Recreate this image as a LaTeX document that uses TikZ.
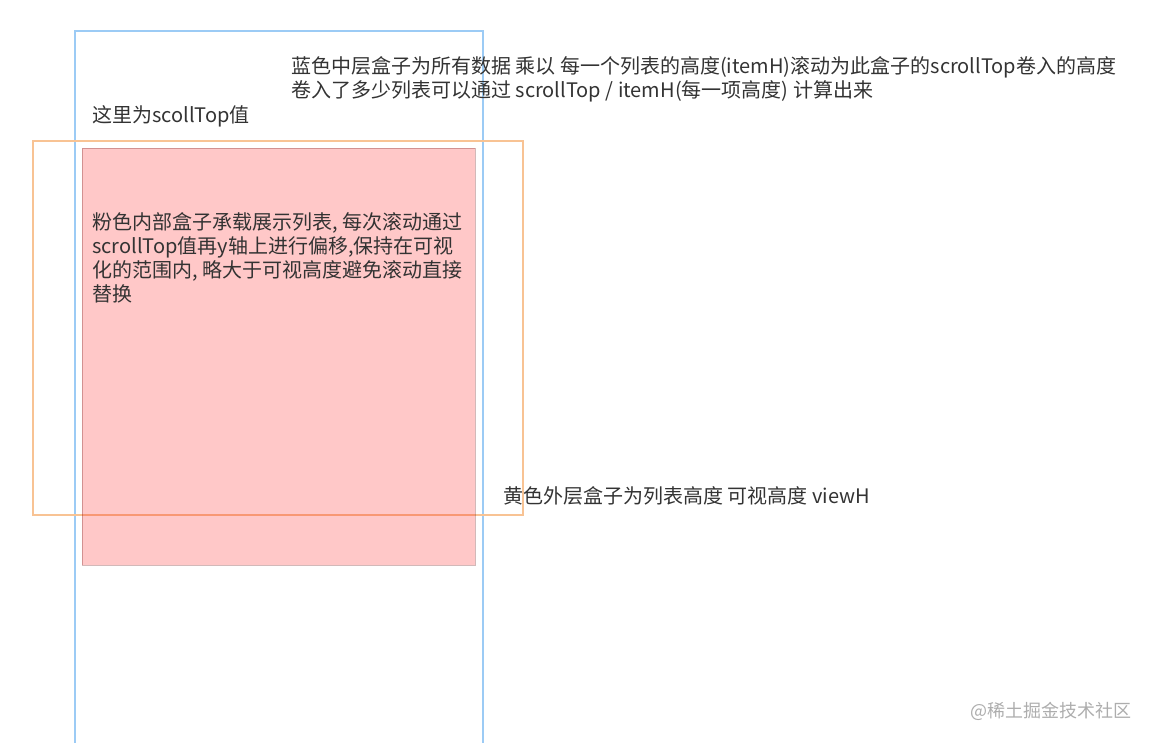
\documentclass[tikz,border=0pt]{standalone}
\usepackage{fontspec}
\setmainfont{Noto Sans CJK SC}
\definecolor{boxblue}{HTML}{9CCBF5}
\definecolor{boxorange}{HTML}{F8C394}
\definecolor{boxpink}{HTML}{FFC8C8}
\definecolor{pinkline}{HTML}{D2B9B9}
\definecolor{note}{HTML}{333333}
\tikzset{
  middle_box/.style={draw=boxblue, line width=1.1pt},
  outer_box/.style={draw=boxorange, line width=1.1pt},
  inner_box/.style={draw=pinkline, fill=boxpink, line width=0.6pt},
  note/.style={text=note, inner sep=0pt, align=left, anchor=west,
    font=\fontsize{15}{18}\selectfont},
}

\begin{document}
\begin{tikzpicture}[x=0.75pt, y=-0.75pt]
  \useasboundingbox (0,0) rectangle (1151,742);
  \clip (0,0) rectangle (1151,742);
  % boxes
  \draw[middle_box] (75,31) rectangle (483,760);
  \draw[outer_box] (33,141) rectangle (523,515);
  \begin{scope}[blend mode=multiply]
    \draw[inner_box] (82,148) rectangle (475,565);
  \end{scope}
  % notes
  \node (middle_note) [note] at (291,79)
    {蓝色中层盒子为所有数据 乘以 每一个列表的高度(itemH)滚动为此盒子的scrollTop卷入的高度\\
     卷入了多少列表可以通过 scrollTop / itemH(每一项高度) 计算出来};
  \node (top_note) [note] at (92,116) {这里为scollTop值};
  \node (inner_note) [note] at (92,258)
    {粉色内部盒子承载展示列表, 每次滚动通过\\
     scrollTop值再y轴上进行偏移,保持在可视\\
     化的范围内, 略大于可视高度避免滚动直接\\
     替换};
  \node (outer_note) [note] at (503,496) {黄色外层盒子为列表高度 可视高度 viewH};
  \node (mark) [note, text=black!32, font=\fontsize{13.5}{16}\selectfont] at (970,711)
    {@稀土掘金技术社区};
\end{tikzpicture}
\end{document}
